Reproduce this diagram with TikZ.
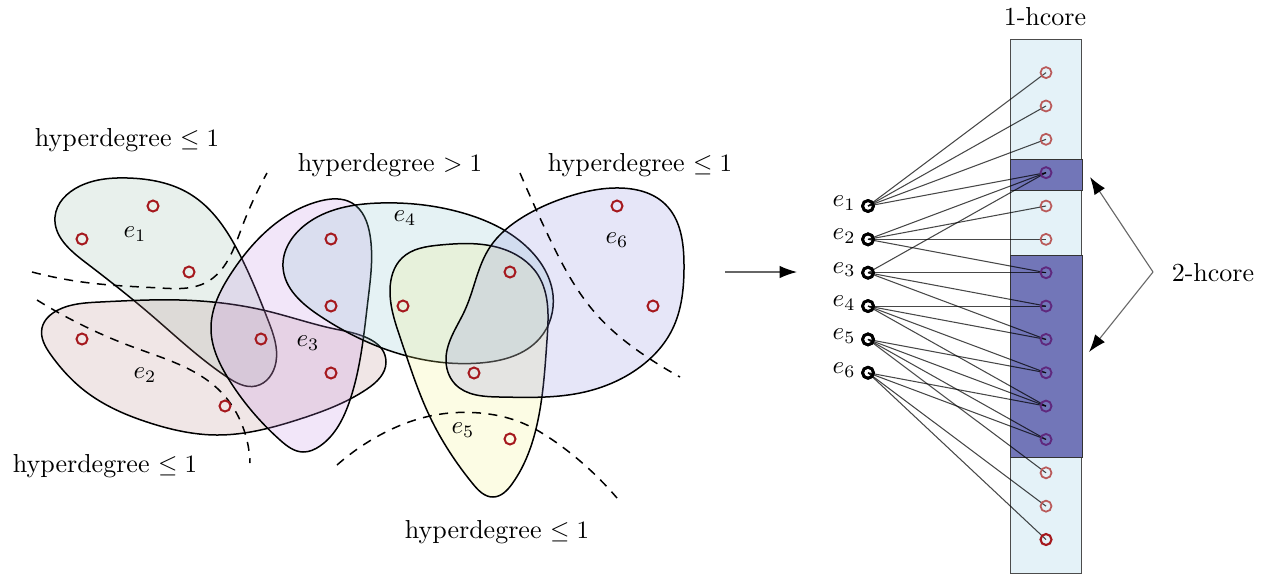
\documentclass[tikz,border=0pt]{standalone}
\usetikzlibrary{arrows.meta,hobby}
\begin{document}
\begin{tikzpicture}[x=0.4pt,y=-0.4pt,
  font=\fontsize{10.4}{12.5}\selectfont,
  hedge/.style={draw=black, line width=0.6pt, fill opacity=0.2, use Hobby shortcut, closed=true},
  sepline/.style={draw=black, line width=0.6pt, dash pattern=on 3.6pt off 3pt, use Hobby shortcut},
  hv/.style={circle, draw=hvred, line width=0.8pt, minimum size=4.4pt, inner sep=0pt},
  enode/.style={circle, draw=black, line width=1.1pt, minimum size=4.4pt, inner sep=0pt},
  vlight/.style={circle, draw=vlred, line width=0.7pt, minimum size=4.4pt, inner sep=0pt},
  vcore/.style={circle, draw=vpurple, line width=0.75pt, minimum size=4.4pt, inner sep=0pt},
  vstrong/.style={circle, draw=hvred, line width=0.85pt, minimum size=4.4pt, inner sep=0pt},
  bedge/.style={draw=black, line width=0.42pt, opacity=0.72},
  ptr/.style={draw=black!60, line width=0.45pt, -{Latex[length=7pt,width=5pt,color=black]}},
  lbl/.style={inner sep=0pt}
]
\definecolor{hvred}{RGB}{165,25,30}
\definecolor{vlred}{RGB}{185,90,90}
\definecolor{vpurple}{RGB}{95,40,125}
\definecolor{cA}{RGB}{140,180,160}
\definecolor{cB}{RGB}{180,132,132}
\definecolor{cC}{RGB}{190,130,226}
\definecolor{cD}{RGB}{124,190,198}
\definecolor{cE}{RGB}{240,240,120}
\definecolor{cF}{RGB}{132,132,222}
\definecolor{colfill}{RGB}{228,242,248}
\definecolor{corefill}{RGB}{114,118,184}
\useasboundingbox (0,0) rectangle (1272,576);

% ---------------- hyperedges ----------------
\path[hedge, fill=cA] (55,217) .. (80,186) .. (128,178) .. (190,194) .. (240,255)
  .. (268,320) .. (276,362) .. (256,386) .. (227,377) .. (150,314) .. (85,262);
\path[hedge, fill=cB] (42,328) .. (58,310) .. (100,302) .. (180,300) .. (267,311)
  .. (340,330) .. (386,362) .. (367,389) .. (300,419) .. (217,435) .. (150,423)
  .. (85,391) .. (51,355);
\path[hedge, fill=cC] (320,201) .. (352,203) .. (370,235) .. (368,300) .. (350,400)
  .. (320,446) .. (303,452) .. (280,440) .. (228,378) .. (211,330) .. (232,272) .. (270,228);
\path[hedge, fill=cD] (283,267) .. (305,225) .. (380,203) .. (463,213) .. (530,250)
  .. (553,295) .. (540,338) .. (480,363) .. (400,354) .. (320,316);
\path[hedge, fill=cE] (402,258) .. (440,245) .. (500,248) .. (538,275) .. (547,340)
  .. (538,420) .. (512,484) .. (493,497) .. (473,484) .. (430,417) .. (401,340) .. (390,290);
\path[hedge, fill=cF] (567,197) .. (620,188) .. (665,204) .. (684,265) .. (672,330)
  .. (640,367) .. (580,393) .. (500,397) .. (455,384) .. (446,358) .. (465,310)
  .. (490,247) .. (523,217);

% ---------------- separators ----------------
\draw[sepline] (32,272) .. (90,283) .. (160,288) .. (207,282) .. (228,260) .. (242,227) .. (267,173);
\draw[sepline] (37,300) .. (133,347) .. (222,393) .. (240,420) .. (250,463);
\draw[sepline] (520,173) .. (547,233) .. (597,315) .. (647,357) .. (680,377);
\draw[sepline] (337,465) .. (380,435) .. (430,416) .. (480,413) .. (520,422) .. (557,443) .. (617,498);

% ---------------- hypergraph vertices ----------------
\node[hv] (hA) at (153,206) {};
\node[hv] (hB) at (82,239) {};
\node[hv] (hC) at (189,272) {};
\node[hv] (hD) at (261,339) {};
\node[hv] (hE) at (82,339) {};
\node[hv] (hF) at (225,406) {};
\node[hv] (hG) at (331,373) {};
\node[hv] (hH) at (331,239) {};
\node[hv] (hI) at (331,306) {};
\node[hv] (hJ) at (403,306) {};
\node[hv] (hK) at (510,272) {};
\node[hv] (hL) at (474,373) {};
\node[hv] (hM) at (617,206) {};
\node[hv] (hN) at (653,306) {};
\node[hv] (hO) at (510,439) {};

% hyperedge labels
\node[lbl] (le1) at (135,234) {$e_1$};
\node[lbl] (le2) at (145,375) {$e_2$};
\node[lbl] (le3) at (308,343) {$e_3$};
\node[lbl] (le4) at (405,218) {$e_4$};
\node[lbl] (le5) at (463,430) {$e_5$};
\node[lbl] (le6) at (617,240) {$e_6$};

% region labels
\node[lbl] (t1) at (127,140) {hyperdegree $\leq 1$};
\node[lbl] (t2) at (390,165) {hyperdegree $> 1$};
\node[lbl] (t3) at (640,165) {hyperdegree $\leq 1$};
\node[lbl] (t4) at (105,466) {hyperdegree $\leq 1$};
\node[lbl] (t5) at (497,532) {hyperdegree $\leq 1$};

% ---------------- transition arrow ----------------
\coordinate (arS) at (725,272);
\coordinate (arE) at (797,272);
\draw[ptr] (arS) -- (arE);

% ---------------- bipartite view ----------------
\node[draw=black!70, line width=0.4pt, fill=colfill, minimum width=71*0.4pt, minimum height=534*0.4pt, inner sep=0pt] (col) at (1045.5,306) {};
\node[draw=black!80, line width=0.4pt, fill=corefill, minimum width=72*0.4pt, minimum height=31*0.4pt, inner sep=0pt] (core1) at (1046,174.5) {};
\node[draw=black!80, line width=0.4pt, fill=corefill, minimum width=72*0.4pt, minimum height=202*0.4pt, inner sep=0pt] (core2) at (1046,356) {};

\node[lbl] (hc1) at (1045,17) {1-hcore};
\node[lbl] (hc2) at (1213,273) {2-hcore};
\coordinate (kink) at (1153,272);
\coordinate (tipA) at (1090,177);
\coordinate (tipB) at (1089,352);
\draw[ptr] (kink) -- (tipA);
\draw[ptr] (kink) -- (tipB);

% e nodes
\foreach \i in {1,...,6} {
  \node[enode] (a\i) at (868,{206+(\i-1)*33.35}) {};
  \node[lbl, anchor=east] (l\i) at (856,{203+(\i-1)*33.35}) {$e_{\i}$};
}
% vertex positions
\foreach \j in {1,...,15} {
  \coordinate (p\j) at (1046,{72.6+(\j-1)*33.35});
}
% edges
\foreach \i/\j in {1/1,1/2,1/3,1/4, 2/4,2/5,2/6,2/7, 3/4,3/7,3/8,3/9,
                   4/8,4/9,4/10,4/11, 5/10,5/11,5/12,5/13, 6/11,6/12,6/14,6/15} {
  \draw[bedge] (a\i.center) -- (p\j);
}
% vertex circles
\foreach \j in {1,2,3,5,6,13,14} { \node[vlight] (v\j) at (p\j) {}; }
\foreach \j in {4,7,8,9,10,11,12} { \node[vcore] (v\j) at (p\j) {}; }
\node[vstrong] (v15) at (p15) {};
% redraw e circles on top
\foreach \i in {1,...,6} { \node[enode] (b\i) at (a\i) {}; }
\end{tikzpicture}
\end{document}
